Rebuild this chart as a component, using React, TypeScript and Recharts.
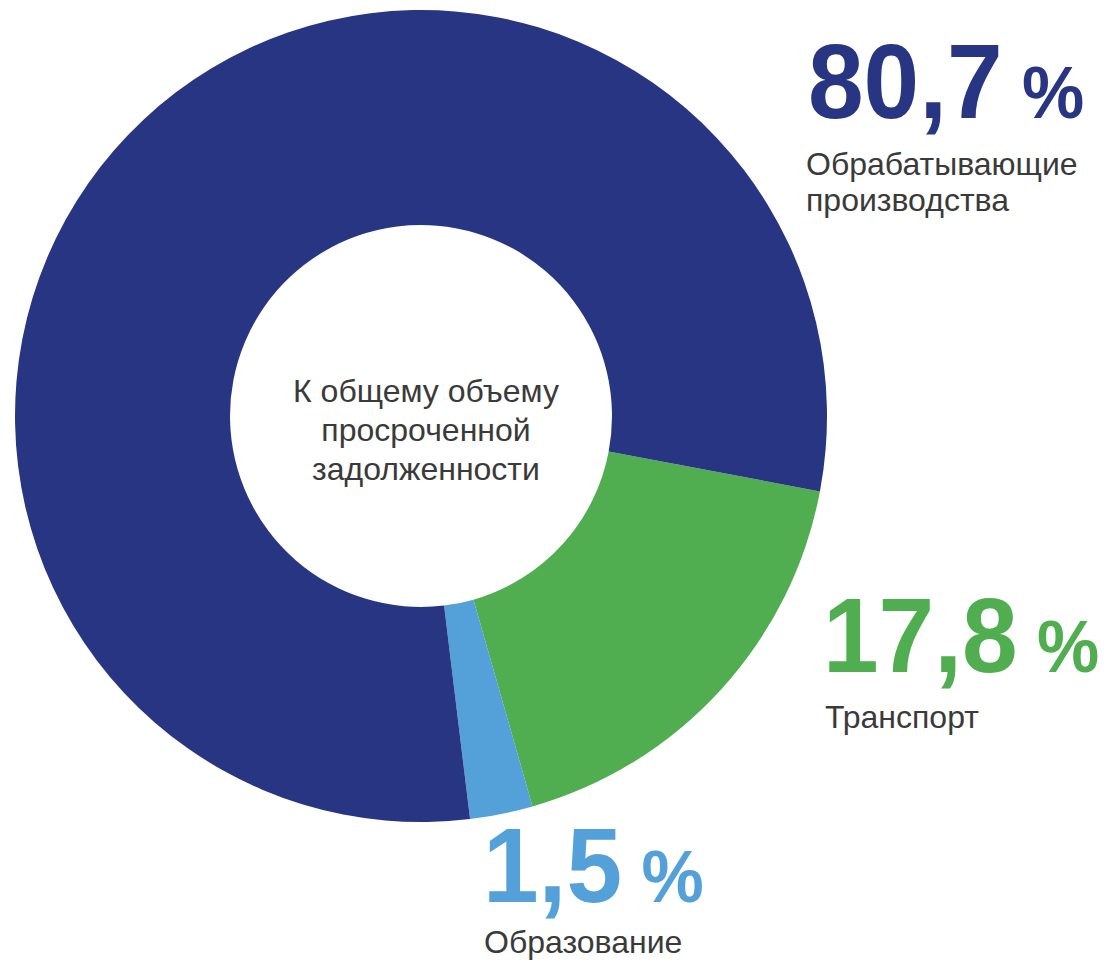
import React from 'react';
import { PieChart, Pie, Cell } from 'recharts';

// sector shares as drawn in the picture (green, light blue, navy, clockwise)
const sectors = ['Транспорт', 'Образование', 'Обрабатывающие производства'];
const shares = [17.6, 2.5, 79.9];
const colors = ['#50ae51', '#54a0d8', '#283583'];

// printed labels
const percentLabels = ['17,8', '1,5', '80,7'];
const centerLines = ['К общему объему', 'просроченной', 'задолженности'];

const data = sectors.map((name, i) => ({ name, value: shares[i] }));

const FONT = 'Arial, "Liberation Sans", sans-serif';
const TEXT = '#3a3a3a';

const BigPct = ({ x, y, value, color }: { x: number; y: number; value: string; color: string }) => (
  <g transform={`translate(${x},${y}) scale(1,1.05)`}>
    <text x={0} y={0} fill={color} fontFamily={FONT} fontWeight="bold">
      <tspan fontSize={100}>{value}</tspan>
      <tspan fontSize={70}> %</tspan>
    </text>
  </g>
);

export default function App() {
  return (
    <div style={{ position: 'absolute', left: 0, top: 0, width: 1112, height: 963, background: '#fff' }}>
      <PieChart width={1112} height={963} margin={{ top: 0, right: 0, bottom: 0, left: 0 }}>
        <Pie
          data={data}
          dataKey="value"
          cx={421}
          cy={416}
          innerRadius={191}
          outerRadius={406}
          startAngle={-10.7}
          endAngle={-370.7}
          stroke="none"
          isAnimationActive={false}
        >
          {data.map((d, i) => (
            <Cell key={d.name} fill={colors[i]} />
          ))}
        </Pie>

        <text x={426} textAnchor="middle" fill={TEXT} fontFamily={FONT} fontSize={32}>
          {centerLines.map((l, i) => (
            <tspan key={l} x={426} y={402 + i * 39}>{l}</tspan>
          ))}
        </text>

        <BigPct x={808} y={118} value={percentLabels[2]} color={colors[2]} />
        <text fill={TEXT} fontFamily={FONT} fontSize={32}>
          <tspan x={806} y={175}>Обрабатывающие</tspan>
          <tspan x={806} y={211}>производства</tspan>
        </text>

        <BigPct x={823} y={672} value={percentLabels[0]} color={colors[0]} />
        <text x={825} y={728} fill={TEXT} fontFamily={FONT} fontSize={32}>{sectors[0]}</text>

        <BigPct x={483} y={902} value={percentLabels[1]} color={colors[1]} />
        <text x={484} y={953} fill={TEXT} fontFamily={FONT} fontSize={32}>{sectors[1]}</text>
      </PieChart>
    </div>
  );
}
